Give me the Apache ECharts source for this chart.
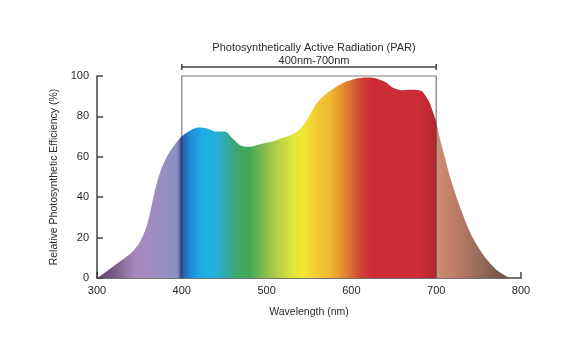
<!DOCTYPE html>
<html>
<head>
<meta charset="utf-8">
<script src="https://cdn.jsdelivr.net/npm/echarts@6/dist/echarts.min.js"></script>
<style>
  html, body { margin: 0; padding: 0; background: #fff; }
  #chart { width: 576px; height: 354px; }
</style>
</head>
<body>
<div id="chart"></div>
<script>
// wavelength (nm) and relative efficiency (%)
const wavelengths = [300, 305, 310, 315, 320, 325, 330, 335, 340, 345, 350, 355, 360, 365, 370, 375,
  380, 385, 390, 395, 400, 410, 420, 430, 440, 450, 460, 470, 480, 490, 500, 510, 520, 530, 540,
  550, 560, 570, 580, 590, 600, 610, 620, 630, 640, 650, 660, 670, 680, 690, 695, 700, 705, 710,
  715, 720, 730, 740, 750, 760, 770, 780, 787];
const efficiency = [0, 1.3, 2.8, 4.4, 6, 7.5, 9, 10.6, 12.3, 14.6, 17.5, 21.6, 27.8, 37, 46, 53,
  58, 62, 65, 67.8, 70, 73, 74.5, 74, 72.5, 72.5, 69, 65.5, 65, 66, 67, 68, 69.5, 71, 74,
  80, 87, 91, 94, 96.5, 98, 99, 99.2, 98.7, 97, 94, 93, 93.2, 93, 88.5, 83.5, 77, 68, 60,
  52, 45, 33, 22.5, 15, 9, 4.5, 1.5, 0];

// spectrum colour at each wavelength
const spectrumNm = [300, 320, 345, 365, 395, 398, 400, 410, 425, 440, 452, 465, 480, 495, 510, 530,
  542, 560, 575, 595, 612, 625, 680, 699, 700.5, 720, 750, 787];
const spectrumColors = ['#5a4868', '#7a5c88', '#a688bc', '#a08cc0', '#8a90c2', '#4a5aa0', '#2f55a8',
  '#1e8cd8', '#1eaee6', '#22b0d8', '#32a8a8', '#3ea866', '#42a858', '#7ab850', '#b0cc48', '#dce43c',
  '#f2e830', '#f2c834', '#f0b830', '#de7e32', '#d04036', '#cc2c36', '#cc2c36', '#b4262e', '#d08c74',
  '#c07e68', '#9a6c5c', '#6a4a44'];

const parBox = [[400, 0], [400, 100], [700, 100], [700, 0]];
const parBracket = [[400, 103], [400, 106], [400, 104.5], [700, 104.5], [700, 106], [700, 103]];

const xMin = wavelengths[0];
const xMax = wavelengths[wavelengths.length - 1];
const stops = spectrumNm.map((nm, i) => ({
  offset: (nm - xMin) / (xMax - xMin),
  color: spectrumColors[i]
}));

const font = '"Liberation Sans", Arial, sans-serif';
const chart = echarts.init(document.getElementById('chart'));
chart.setOption({
  animation: false,
  title: {
    text: 'Photosynthetically Active Radiation (PAR)\n400nm-700nm',
    left: 309,
    top: 37,
    textAlign: 'center',
    textStyle: { fontSize: 11, lineHeight: 12.5, fontWeight: 'normal', color: '#2a2a2a', fontFamily: font }
  },
  grid: { left: 97, right: 55, top: 76, bottom: 76 },
  xAxis: {
    type: 'value',
    min: 300,
    max: 800,
    interval: 100,
    name: 'Wavelength (nm)',
    nameLocation: 'middle',
    nameGap: 29,
    nameTextStyle: { fontSize: 10.5, color: '#2a2a2a', fontFamily: font },
    axisLine: { lineStyle: { color: '#444', width: 1.5 } },
    axisTick: { inside: true, length: 6, lineStyle: { color: '#444', width: 1.5 } },
    axisLabel: { fontSize: 11, color: '#2a2a2a', margin: 7, fontFamily: font },
    splitLine: { show: false }
  },
  yAxis: {
    type: 'value',
    min: 0,
    max: 100,
    interval: 20,
    name: 'Relative Photosynthetic Efficiency (%)',
    nameLocation: 'middle',
    nameGap: 36,
    nameTextStyle: { fontSize: 10.5, color: '#2a2a2a', fontFamily: font },
    axisLine: { show: true, lineStyle: { color: '#444', width: 1.5 } },
    axisTick: { show: true, inside: true, length: 6, lineStyle: { color: '#444', width: 1.5 } },
    axisLabel: { fontSize: 11, color: '#2a2a2a', margin: 8, fontFamily: font },
    splitLine: { show: false }
  },
  series: [
    {
      type: 'line',
      data: wavelengths.map((w, i) => [w, efficiency[i]]),
      smooth: 0.4,
      showSymbol: false,
      lineStyle: { width: 0 },
      areaStyle: {
        opacity: 1,
        color: { type: 'linear', x: 0, y: 0, x2: 1, y2: 0, colorStops: stops }
      },
      z: 1
    },
    {
      type: 'line',
      data: parBox,
      showSymbol: false,
      clip: false,
      lineStyle: { color: 'rgba(50,50,50,0.65)', width: 1.2 },
      z: 3
    },
    {
      type: 'line',
      data: parBracket,
      showSymbol: false,
      clip: false,
      lineStyle: { color: '#444', width: 1.5 },
      z: 3
    }
  ]
});
</script>
</body>
</html>
